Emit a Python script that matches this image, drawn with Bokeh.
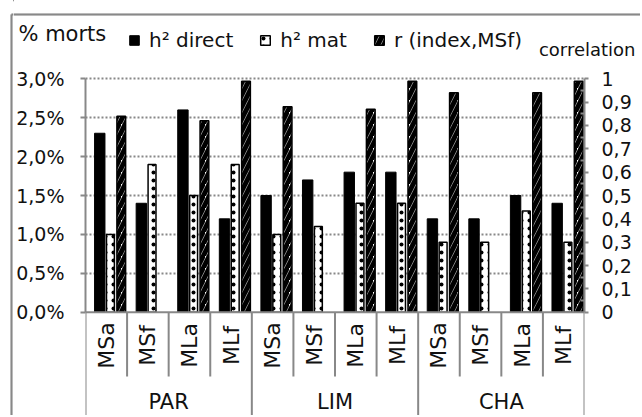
import numpy as np
from bokeh.plotting import figure
from bokeh.layouts import column, row
from bokeh.models import (Range1d, LinearAxis, FixedTicker, CustomJSTickFormatter, Span,
                          Legend, LegendItem, ColumnDataSource, BoxAnnotation)
from bokeh.transform import dodge
from bokeh.embed import file_html
from bokeh.resources import INLINE
from bokeh.core.properties import value

# ---------------- data ----------------
groups = ["PAR", "LIM", "CHA"]
subcats = ["MSa", "MSf", "MLa", "MLf"]
h2_direct = [2.3, 1.4, 2.6, 1.2, 1.5, 1.7, 1.8, 1.8, 1.2, 1.2, 1.5, 1.4]   # % morts
h2_mat = [1.0, 1.9, 1.5, 1.9, 1.0, 1.1, 1.4, 1.4, 0.9, 0.9, 1.3, 0.9]      # % morts
r_corr = [0.84, None, 0.82, 0.99, 0.88, None, 0.87, 0.99, 0.94, None, 0.94, 0.99]
pct_ticks = [0.0, 0.5, 1.0, 1.5, 2.0, 2.5, 3.0]
corr_ticks = [0.0, 0.1, 0.2, 0.3, 0.4, 0.5, 0.6, 0.7, 0.8, 0.9, 1.0]
legend_labels = ["h² direct", "h² mat", "r (index,MSf)"]
left_title = "% morts"
right_title = "correlation"

# ---------------- layout constants ----------------
TOTAL_W, TOTAL_H = 640, 415
SW = 13                 # left strip holding the chart border
W = TOTAL_W - SW        # width of header / main figure
HH = 64                 # header height
MH = TOTAL_H - HH       # main figure height
FL, FR = 69, 571        # main frame left / right (px, inside main figure)
ZERO = 247.7            # y pixel of 0 in main figure
PXPCT = 77.8            # pixels per 1 %
y_lo = -(MH - ZERO) / PXPCT
y_hi = ZERO / PXPCT
GRAY = "#888888"
FNAME = "DejaVu Sans"
FONT = value(FNAME)
TXT = "#111111"
BORDER_X, BORDER_Y = 11, 14

BLACK_STYLE = dict(fill_color="black", line_color="black", line_width=1)
MAT_STYLE = dict(fill_color="white", line_color="black", line_width=1.5,
                 hatch_pattern=".", hatch_color="black", hatch_scale=8, hatch_weight=1.5)
R_STYLE = dict(fill_color="white", line_color="black", line_width=1.5,
               hatch_pattern="/", hatch_color="black", hatch_scale=12, hatch_weight=5)

n = len(groups) * len(subcats)
xs = np.arange(n)
cat_labels = [s for g in groups for s in subcats]


def bare(width, height, xr, yr):
    f = figure(width=width, height=height, output_backend="svg", toolbar_location=None,
               x_range=xr, y_range=yr, x_axis_type=None, y_axis_type=None,
               min_border_left=0, min_border_right=0, min_border_top=0, min_border_bottom=0)
    f.frame_align = False
    f.outline_line_color = None
    f.border_fill_color = "white"
    f.background_fill_color = "white"
    return f


# ================= left strip: chart border =================
strip = bare(SW, TOTAL_H, Range1d(0, SW), Range1d(TOTAL_H, 0))
strip.segment(x0=[BORDER_X, BORDER_X], y0=[BORDER_Y, BORDER_Y], x1=[BORDER_X, SW],
              y1=[TOTAL_H, BORDER_Y], line_color=GRAY, line_width=2)
strip.add_layout(BoxAnnotation(left=BORDER_X, right=SW + 50, top=BORDER_Y, bottom=TOTAL_H + 50,
                               fill_alpha=0, line_color=GRAY, line_width=2))

# ================= header figure (axis titles + legend) =================
hd = bare(W, HH, Range1d(0, W), Range1d(HH, 0))
hd.segment(x0=[0], y0=[BORDER_Y], x1=[W], y1=[BORDER_Y], line_color=GRAY, line_width=2)
hd.add_layout(BoxAnnotation(left=-50, right=W + 50, top=BORDER_Y, bottom=HH + 50,
                            fill_alpha=0, line_color=GRAY, line_width=2))

hd.text(x=[5], y=[33.7], text=[left_title], text_font=FONT, text_font_size="21px",
        text_color=TXT, text_align="left", text_baseline="alphabetic")
hd.text(x=[622], y=[49], text=[right_title], text_font=FONT, text_font_size="18px",
        text_color=TXT, text_align="right", text_baseline="alphabetic")

proxy = ColumnDataSource(dict(x=[-1000], top=[0]))
l1 = hd.vbar(x="x", top="top", width=1, source=proxy, **BLACK_STYLE)
l2 = hd.vbar(x="x", top="top", width=1, source=proxy, **MAT_STYLE)
l3 = hd.vbar(x="x", top="top", width=1, source=proxy, **R_STYLE)
legend = Legend(items=[LegendItem(label=legend_labels[0], renderers=[l1]),
                       LegendItem(label=legend_labels[1], renderers=[l2]),
                       LegendItem(label=legend_labels[2], renderers=[l3])],
                orientation="horizontal", location=(115, 12),
                glyph_width=12, glyph_height=12, label_standoff=9, spacing=26,
                padding=0, margin=0, background_fill_alpha=0, border_line_alpha=0,
                label_text_font=FNAME, label_text_font_size="20px",
                label_text_color=TXT, label_height=20)
hd.add_layout(legend)

# ================= main figure =================
p = figure(width=W, height=MH, output_backend="svg", toolbar_location=None,
           x_range=Range1d(0, n), y_range=Range1d(y_lo, y_hi),
           x_axis_type=None, min_border_left=FL, min_border_right=W - FR,
           min_border_top=0, min_border_bottom=0)
p.frame_align = False
p.extra_y_ranges = {"corr": Range1d(y_lo / 3.0, y_hi / 3.0), "px": Range1d(MH, 0)}
p.outline_line_color = None
p.xgrid.visible = False
p.background_fill_color = "white"
p.border_fill_color = "white"

# left axis
ya = p.yaxis[0]
ya.ticker = FixedTicker(ticks=pct_ticks)
ya.bounds = (0, 3)
ya.formatter = CustomJSTickFormatter(code="return tick.toFixed(1).replace('.', ',') + '%';")
ya.axis_line_color = GRAY
ya.axis_line_width = 2
ya.major_tick_line_color = GRAY
ya.major_tick_line_width = 2
ya.major_tick_out = 5
ya.major_tick_in = 0
ya.minor_tick_line_color = None
ya.major_label_text_font = FNAME
ya.major_label_text_font_size = "19px"
ya.major_label_text_color = TXT
ya.major_label_standoff = 16

p.ygrid.ticker = FixedTicker(ticks=pct_ticks[1:])
p.ygrid.grid_line_color = GRAY
p.ygrid.grid_line_width = 2
p.ygrid.grid_line_dash = "2 2"

# right axis
ra = LinearAxis(y_range_name="corr",
                ticker=FixedTicker(ticks=corr_ticks,
                                   minor_ticks=[t + 0.05 for t in corr_ticks[:-1]]),
                formatter=CustomJSTickFormatter(code="return String(Math.round(tick*10)/10).replace('.', ',');"))
ra.bounds = (0, 1)
ra.axis_line_color = GRAY
ra.axis_line_width = 2
ra.major_tick_line_color = GRAY
ra.major_tick_line_width = 2
ra.major_tick_out = 4
ra.major_tick_in = 0
ra.minor_tick_line_color = GRAY
ra.minor_tick_line_width = 2
ra.minor_tick_in = 4
ra.minor_tick_out = 0
ra.major_label_text_font = FNAME
ra.major_label_text_font_size = "19px"
ra.major_label_text_color = TXT
ra.major_label_standoff = 13
p.add_layout(ra, "right")

# zero line
p.add_layout(Span(location=0, dimension="width", line_color=GRAY, line_width=2))

# bars
src = ColumnDataSource(dict(
    x=xs, d=h2_direct, m=h2_mat,
    r=[np.nan if v is None else v for v in r_corr],
))
r1 = p.vbar(x=dodge("x", 0.343, range=p.x_range), top="d", bottom=0, width=0.25,
            source=src, **BLACK_STYLE)
r2 = p.vbar(x=dodge("x", 0.60, range=p.x_range), top="m", bottom=0, width=0.19,
            source=src, **MAT_STYLE)
r3 = p.vbar(x=dodge("x", 0.86, range=p.x_range), top="r", bottom=0, width=0.21,
            source=src, y_range_name="corr", **R_STYLE)

# category separators below the axis
sub_sep = [i for i in range(1, n) if i % len(subcats) != 0]
grp_sep = [i for i in range(0, n + 1) if i % len(subcats) == 0]
p.segment(x0=sub_sep, x1=sub_sep, y0=[ZERO] * len(sub_sep), y1=[312] * len(sub_sep),
          y_range_name="px", line_color=GRAY, line_width=2)
p.segment(x0=grp_sep, x1=grp_sep, y0=[ZERO] * len(grp_sep), y1=[MH] * len(grp_sep),
          y_range_name="px", line_color=GRAY, line_width=2)

# category labels
p.text(x=xs + 0.5, y=[281] * n, text=cat_labels, angle=np.pi / 2, y_range_name="px",
       text_align="center", text_baseline="middle", text_font=FONT,
       text_font_size="22px", text_color=TXT)
gx = [len(subcats) * (k + 0.5) for k in range(len(groups))]
p.text(x=gx, y=[337] * len(groups), text=groups, y_range_name="px",
       text_align="center", text_baseline="middle", text_font=FONT,
       text_font_size="21px", text_color=TXT)

layout = row(strip, column(hd, p, spacing=0), spacing=0)
open("out.html", "w").write(file_html(layout, INLINE))
